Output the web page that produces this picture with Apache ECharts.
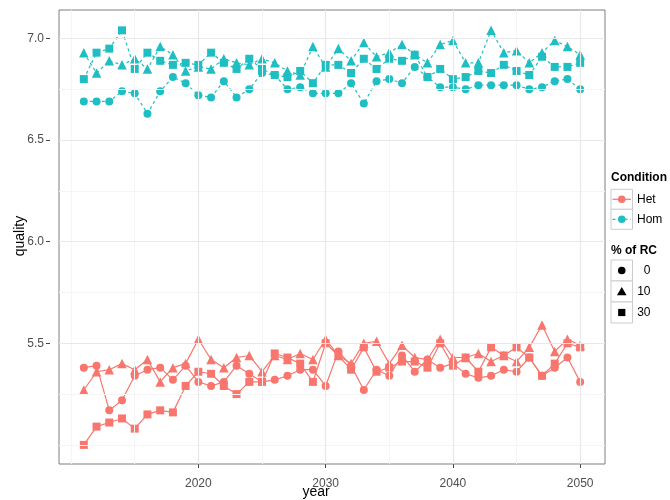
<!DOCTYPE html>
<html><head><meta charset="utf-8">
<script src="https://cdn.jsdelivr.net/npm/echarts@6/dist/echarts.min.js"></script>
<style>html,body{margin:0;padding:0;background:#fff}#c{width:670px;height:500px}</style>
</head><body><div id="c"></div>
<script>
// ---- data ----
const years = [2011,2012,2013,2014,2015,2016,2017,2018,2019,2020,
               2021,2022,2023,2024,2025,2026,2027,2028,2029,2030,
               2031,2032,2033,2034,2035,2036,2037,2038,2039,2040,
               2041,2042,2043,2044,2045,2046,2047,2048,2049,2050];
// Het condition, % of RC = 0 / 10 / 30
const het0  = [5.38,5.39,5.17,5.22,5.34,5.37,5.38,5.32,5.39,5.31,
               5.29,5.31,5.39,5.35,5.31,5.32,5.34,5.37,5.37,5.29,
               5.46,5.39,5.27,5.37,5.34,5.44,5.36,5.42,5.38,5.40,
               5.35,5.33,5.34,5.37,5.36,5.43,5.34,5.38,5.43,5.31];
const het10 = [5.27,5.36,5.37,5.40,5.37,5.42,5.31,5.38,5.40,5.52,
               5.42,5.38,5.43,5.44,5.36,5.44,5.42,5.45,5.42,5.52,
               5.44,5.40,5.50,5.51,5.40,5.49,5.43,5.42,5.52,5.43,
               5.43,5.45,5.41,5.44,5.41,5.48,5.59,5.46,5.52,5.49];
const het30 = [5.00,5.09,5.11,5.13,5.08,5.15,5.17,5.16,5.29,5.36,
               5.35,5.29,5.25,5.31,5.31,5.45,5.43,5.40,5.31,5.50,
               5.44,5.37,5.48,5.36,5.38,5.41,5.41,5.38,5.50,5.39,
               5.43,5.36,5.48,5.44,5.48,5.43,5.34,5.40,5.50,5.48];
// Hom condition, % of RC = 0 / 10 / 30
const hom0  = [6.69,6.69,6.69,6.74,6.73,6.63,6.74,6.81,6.78,6.72,
               6.71,6.79,6.71,6.75,6.83,6.82,6.75,6.76,6.73,6.73,
               6.73,6.78,6.68,6.79,6.80,6.78,6.86,6.81,6.76,6.76,
               6.75,6.77,6.77,6.77,6.77,6.75,6.76,6.79,6.80,6.75];
const hom10 = [6.93,6.83,6.89,6.87,6.90,6.85,6.96,6.92,6.84,6.86,
               6.85,6.90,6.88,6.87,6.90,6.88,6.84,6.82,6.96,6.86,
               6.95,6.89,6.98,6.91,6.93,6.97,6.92,6.88,6.97,6.99,
               6.88,6.88,7.04,6.93,6.94,6.88,6.93,6.99,6.96,6.92];
const hom30 = [6.80,6.93,6.95,7.04,6.85,6.93,6.89,6.87,6.88,6.87,
               6.93,6.88,6.85,6.90,6.85,6.82,6.81,6.84,6.78,6.87,
               6.87,6.83,6.90,6.85,6.90,6.89,6.92,6.81,6.85,6.80,
               6.81,6.84,6.83,6.87,6.84,6.82,6.91,6.86,6.86,6.88];

const xTicks = [2020, 2030, 2040, 2050];
const yTicks = [5.5, 6.0, 6.5, 7.0];
const xMinor = [2010, 2015, 2025, 2035, 2045];
const yMinor = [5.0, 5.25, 5.75, 6.25, 6.75];
const conditions = ['Het', 'Hom'];
const rcLevels = ['0', '10', '30'];

// ---- styling ----
const RED = '#F8766D', CYAN = '#1FBEC3';
const FONT = '"Liberation Sans", Arial, Helvetica, sans-serif';
const xMin = 2009.05, xMax = 2051.95, yMin = 4.906, yMax = 7.14;

function mk(name, vals, color, symbol, size, dashed) {
  return {
    type: 'line', name: name,
    data: years.map((y, i) => [y, vals[i]]),
    symbol: symbol, symbolSize: size, showSymbol: true,
    lineStyle: { color: color, width: 1.2, type: dashed ? [3, 3] : 'solid' },
    itemStyle: { color: color },
    z: 3, animation: false, silent: true
  };
}

const gridLines = [];
xMinor.forEach(v => gridLines.push({ xAxis: v, lineStyle: { color: '#f5f5f5', width: 1, type: 'solid' } }));
yMinor.forEach(v => gridLines.push({ yAxis: v, lineStyle: { color: '#f5f5f5', width: 1, type: 'solid' } }));
xTicks.forEach(v => gridLines.push({ xAxis: v, lineStyle: { color: '#e8e8e8', width: 1.2, type: 'solid' } }));
yTicks.forEach(v => gridLines.push({ yAxis: v, lineStyle: { color: '#e8e8e8', width: 1.2, type: 'solid' } }));

const chart = echarts.init(document.getElementById('c'), null, { renderer: 'canvas' });

// legend (drawn as graphics)
const lg = [];
const kx = 611, kw = 21.5, kh = 20;
lg.push({ type: 'text', x: kx, y: 178, style: { text: 'Condition', font: 'bold 12px ' + FONT, fill: '#000', verticalAlign: 'middle' } });
const condRows = [189.3, 209.3];
const condColors = [RED, CYAN];
conditions.forEach((c, i) => {
  const top = condRows[i], cy = top + kh / 2;
  lg.push({ type: 'rect', shape: { x: kx, y: top, width: kw, height: kh }, style: { fill: '#fff', stroke: '#cccccc', lineWidth: 1 } });
  lg.push({ type: 'line', shape: { x1: kx + 1.5, y1: cy, x2: kx + kw - 1.5, y2: cy }, style: { stroke: condColors[i], lineWidth: 1.2, lineDash: i === 1 ? [3, 3] : null } });
  lg.push({ type: 'circle', shape: { cx: kx + kw / 2, cy: cy, r: 3.8 }, style: { fill: condColors[i] } });
  lg.push({ type: 'text', x: kx + 26, y: cy, style: { text: c, font: '12px ' + FONT, fill: '#000', verticalAlign: 'middle' } });
});
lg.push({ type: 'text', x: kx, y: 251, style: { text: '% of RC', font: 'bold 12px ' + FONT, fill: '#000', verticalAlign: 'middle' } });
const rcRows = [260, 281, 302];
rcLevels.forEach((r, i) => {
  const top = rcRows[i], cy = top + 10.5, cx = kx + kw / 2;
  lg.push({ type: 'rect', shape: { x: kx, y: top, width: kw, height: 21 }, style: { fill: '#fff', stroke: '#cccccc', lineWidth: 1 } });
  if (i === 0) lg.push({ type: 'circle', shape: { cx: cx, cy: cy, r: 3.8 }, style: { fill: '#000' } });
  if (i === 1) lg.push({ type: 'polygon', shape: { points: [[cx, cy - 4.5], [cx + 4.8, cy + 3.8], [cx - 4.8, cy + 3.8]] }, style: { fill: '#000' } });
  if (i === 2) lg.push({ type: 'rect', shape: { x: cx - 3.6, y: cy - 3.6, width: 7.2, height: 7.2 }, style: { fill: '#000' } });
  lg.push({ type: 'text', x: 650.5, y: cy, style: { text: r, font: '12px ' + FONT, fill: '#000', align: 'right', verticalAlign: 'middle' } });
});
// axis titles
lg.push({ type: 'text', x: 316, y: 492, style: { text: 'year', font: '14px ' + FONT, fill: '#000', align: 'center', verticalAlign: 'middle' } });
lg.push({ type: 'text', x: 20, y: 236, rotation: Math.PI / 2, style: { text: 'quality', font: '14px ' + FONT, fill: '#000', align: 'center', verticalAlign: 'middle' } });

chart.setOption({
  animation: false,
  backgroundColor: '#fff',
  grid: { left: 59, top: 10, width: 546, height: 454, show: true, borderColor: '#7f7f7f', borderWidth: 1, backgroundColor: 'transparent', z: 5 },
  xAxis: {
    type: 'value', min: xMin, max: xMax,
    axisLine: { show: false },
    splitLine: { show: false },
    axisTick: { show: true, length: 4, customValues: xTicks, lineStyle: { color: '#444' } },
    axisLabel: { customValues: xTicks, margin: 14, color: '#4d4d4d', fontSize: 12, fontFamily: FONT, formatter: v => String(Math.round(v)) }
  },
  yAxis: {
    type: 'value', min: yMin, max: yMax, offset: 9,
    axisLine: { show: false },
    splitLine: { show: false },
    axisTick: { show: true, length: 4, customValues: yTicks, lineStyle: { color: '#444' } },
    axisLabel: { customValues: yTicks, margin: 6, color: '#4d4d4d', fontSize: 12, fontFamily: FONT, formatter: v => v.toFixed(1) }
  },
  graphic: lg,
  series: [
    { type: 'line', data: [], z: 1, silent: true,
      markLine: { silent: true, symbol: ['none', 'none'], label: { show: false }, animation: false, data: gridLines } },
    mk('Het 0', het0, RED, 'circle', 8, false),
    mk('Het 10', het10, RED, 'triangle', 9.5, false),
    mk('Het 30', het30, RED, 'rect', 8, false),
    mk('Hom 0', hom0, CYAN, 'circle', 8, true),
    mk('Hom 10', hom10, CYAN, 'triangle', 9.5, true),
    mk('Hom 30', hom30, CYAN, 'rect', 8, true)
  ]
});
</script>
</body></html>
